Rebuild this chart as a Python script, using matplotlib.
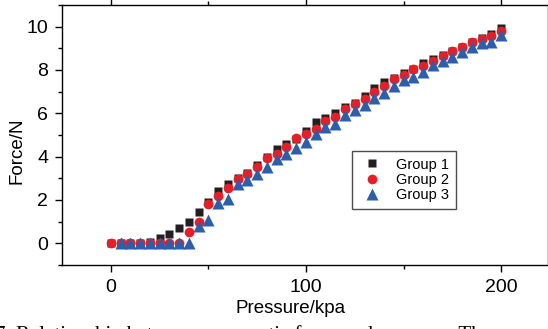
import numpy as np
import matplotlib
matplotlib.use('Agg')
import matplotlib.pyplot as plt
from matplotlib.ticker import MultipleLocator

plt.rcParams['font.family'] = ['Liberation Sans', 'DejaVu Sans']

pressure = np.arange(0, 205, 5)

group1 = [0, 0, 0, 0.01, 0.05, 0.23, 0.41, 0.69, 1.0, 1.43,
          1.92, 2.43, 2.74, 3.0, 3.23, 3.61, 4.0, 4.36, 4.58, 4.8,
          5.18, 5.6, 5.77, 6.0, 6.3, 6.49, 6.81, 7.15, 7.43, 7.62,
          7.87, 8.04, 8.3, 8.49, 8.69, 8.89, 9.07, 9.3, 9.49, 9.66, 9.92]
group2 = [0, 0, 0, 0, 0, 0, 0, 0, 0.54, 1.0,
          1.81, 2.2, 2.57, 2.97, 3.2, 3.54, 3.92, 4.13, 4.46, 4.84,
          5.04, 5.3, 5.66, 5.84, 6.2, 6.43, 6.64, 6.97, 7.27, 7.57,
          7.77, 8.04, 8.2, 8.43, 8.66, 8.87, 9.07, 9.3, 9.45, 9.58, 9.8]
# group 3 starts at 5 kpa
pressure3 = pressure[1:]
group3 = [0, 0, 0, 0, 0, 0, 0, 0, 0.8,
          1.08, 1.85, 2.04, 2.74, 2.92, 3.2, 3.54, 3.9, 4.12, 4.38,
          4.66, 5.04, 5.38, 5.5, 5.92, 6.15, 6.38, 6.69, 6.92, 7.26,
          7.54, 7.69, 7.92, 8.23, 8.41, 8.58, 8.84, 9.04, 9.23, 9.3, 9.62]

fig = plt.figure(figsize=(5.48, 3.29), dpi=100)
ax = fig.add_axes([62/548, 1-265/329, 486/548, 260/329])

ax.plot(pressure, group1, 's', color='#231f20', ms=6, mec='none', label='Group 1')
ax.plot(pressure, group2, 'o', color='#ed1c24', ms=7, mec='none', label='Group 2')
ax.plot(pressure3, group3, '^', color='#2b5fae', ms=8, mec='none', label='Group 3')

ax.set_xlim(-25, 224)
ax.set_ylim(-1, 11)
ax.xaxis.set_major_locator(MultipleLocator(100))
ax.xaxis.set_minor_locator(MultipleLocator(50))
ax.yaxis.set_major_locator(MultipleLocator(2))
ax.yaxis.set_minor_locator(MultipleLocator(1))
ax.tick_params(which='both', direction='out', top=True, right=True, labelsize=14)
ax.tick_params(which='major', length=5, width=1, pad=5)
ax.tick_params(which='minor', length=3, width=1)
for s in ax.spines.values():
    s.set_linewidth(1.0)

ax.set_xlabel('Pressure/kpa', fontsize=13.5)
ax.set_ylabel('Force/N', fontsize=13.5)
ax.xaxis.set_label_coords(0.471, -0.135)
ax.yaxis.set_label_coords(-0.075, 0.44)

leg = ax.legend(loc='upper left', bbox_to_anchor=(290/486, (265-151)/260),
                borderaxespad=0,
                fontsize=10.5, frameon=True, fancybox=False, edgecolor='#231f20',
                handletextpad=0.8, borderpad=0.45, labelspacing=0.1, handlelength=1.8)
leg.get_frame().set_linewidth(1.0)

fig.text(-0.01, -0.05, '7. Relationship between pneumatic force and pressure. The',
         family='Liberation Serif', fontsize=15, va='bottom')

fig.savefig('out.png', dpi=100)
